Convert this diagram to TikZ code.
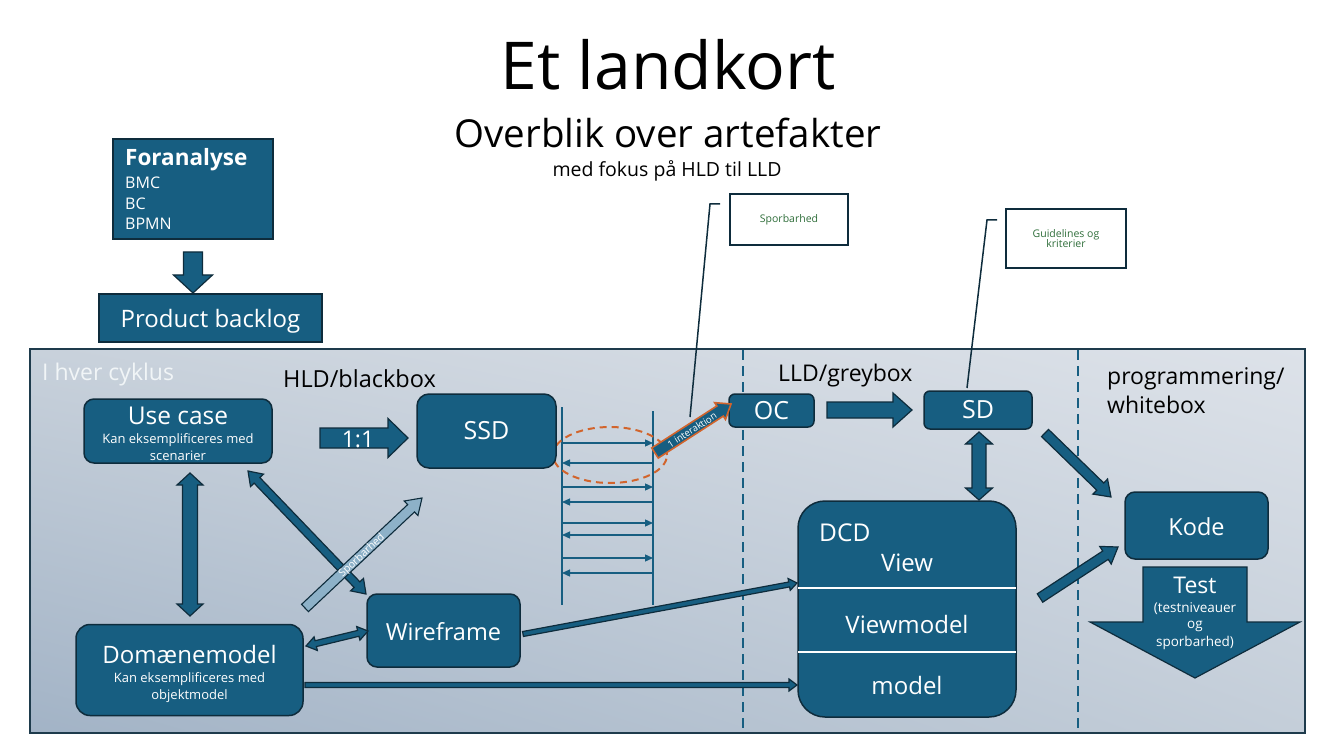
\documentclass[tikz,border=0pt]{standalone}
\usepackage{fontspec}
\setmainfont{Open Sans}
\usetikzlibrary{calc,shadings,shapes.geometric,arrows.meta}

\definecolor{boxblue}{HTML}{175E81}
\definecolor{boxedge}{HTML}{0E2C3C}
\definecolor{frameedge}{HTML}{1E3B4C}
\definecolor{orng}{HTML}{D2642C}
\definecolor{lightar}{HTML}{8DB1C8}
\definecolor{calltxt}{HTML}{2F6E3A}
\definecolor{bgll}{HTML}{A2B3C6}
\definecolor{bgul}{HTML}{C8D1DB}
\definecolor{bglr}{HTML}{C4CED9}
\definecolor{bgur}{HTML}{DDE2E9}

\newcommand\fs[1]{\fontsize{#1}{#1}\selectfont}

% single block arrow: style, from, to, shaft half width, head half width, head length
\newcommand\sarrow[6]{%
  \coordinate (ba-s) at ($(#3)!#6pt!(#2)$);
  \path[#1] ($(#2)!#4pt!90:(#3)$) -- ($(ba-s)!#4pt!90:(#3)$) -- ($(ba-s)!#5pt!90:(#3)$) -- (#3)
    -- ($(ba-s)!#5pt!-90:(#3)$) -- ($(ba-s)!#4pt!-90:(#3)$) -- ($(#2)!#4pt!-90:(#3)$) -- cycle;}
% double block arrow
\newcommand\darrow[6]{%
  \coordinate (da-s) at ($(#2)!#6pt!(#3)$);
  \coordinate (da-t) at ($(#3)!#6pt!(#2)$);
  \path[#1] (#2) -- ($(da-s)!#5pt!90:(#3)$) -- ($(da-s)!#4pt!90:(#3)$) -- ($(da-t)!#4pt!90:(#3)$)
    -- ($(da-t)!#5pt!90:(#3)$) -- (#3) -- ($(da-t)!#5pt!-90:(#3)$) -- ($(da-t)!#4pt!-90:(#3)$)
    -- ($(da-s)!#4pt!-90:(#3)$) -- ($(da-s)!#5pt!-90:(#3)$) -- cycle;}

\tikzset{
  box/.style={draw=boxedge, fill=boxblue, line width=1.5pt, text=white, inner sep=0pt},
  rbox/.style={box, rounded corners=#1},
  blk/.style={fill=boxblue, draw=boxedge, line width=1.2pt, line join=miter},
  lightblk/.style={fill=lightar, draw=boxedge, line width=1.1pt, line join=miter},
  orblk/.style={fill=boxblue, draw=orng, line width=1.6pt, line join=miter},
  wtxt/.style={text=white, inner sep=0pt},
  btxt/.style={text=black, inner sep=0pt},
  divider/.style={draw=boxblue, line width=1.4pt, dash pattern=on 10pt off 6pt},
  lifeline/.style={draw=boxblue, line width=1.3pt},
  msg/.style={draw=boxblue, line width=1.3pt, -{Triangle[length=8pt,width=7pt]}},
  callbox/.style={draw=boxedge, fill=white, line width=1.6pt, text=calltxt, inner sep=0pt, align=center, font=\fs{10.5}},
  leader/.style={draw=boxedge, line width=1.5pt},
  focus/.style={ellipse, draw=orng, line width=2pt, dash pattern=on 7pt off 5pt, inner sep=0pt},
}

\begin{document}
\begin{tikzpicture}[x=1pt,y=-1pt]
\useasboundingbox (0,0) rectangle (1330,743);

% titles
\node[btxt, anchor=base, font=\fs{66}] (title) at (668,90) {Et landkort};
\node[btxt, anchor=base, font=\fs{38.5}] (sub) at (668,148) {Overblik over artefakter};
\node[btxt, anchor=base, font=\fs{19.5}] (sub2) at (667,177) {med fokus på HLD til LLD};

% Foranalyse & backlog
\node[box, minimum width=160pt, minimum height=100pt] (fa) at (193,189) {};
\node[wtxt, anchor=base west, font=\bfseries\fs{22.5}] (fat) at (125,166) {Foranalyse};
\node[wtxt, anchor=base west, font=\fs{16}] (fa1) at (125,189) {BMC};
\node[wtxt, anchor=base west, font=\fs{16}] (fa2) at (125,210) {BC};
\node[wtxt, anchor=base west, font=\fs{16}] (fa3) at (125,230) {BPMN};
\node[box, minimum width=223pt, minimum height=48pt] (pb) at (210.5,318) {};
\node[wtxt, anchor=base, font=\fs{24}] (pbt) at (210.5,327) {Product backlog};
\coordinate (fa-a) at (193,252);
\coordinate (fa-b) at (193,293);
\sarrow{blk}{fa-a}{fa-b}{9.5}{19.5}{18}

% frame
\coordinate (fr-nw) at (30,349);
\coordinate (fr-se) at (1305,733);
\shade[lower left=bgll, upper right=bgur, upper left=bgul, lower right=bglr] (fr-nw) rectangle (fr-se);
\draw[frameedge, line width=1.5pt] (fr-nw) rectangle (fr-se);
\coordinate (d1t) at (743,350);
\coordinate (d1b) at (743,732);
\coordinate (d2t) at (1078,350);
\coordinate (d2b) at (1078,732);
\draw[divider] (d1t) -- (d1b);
\draw[divider] (d2t) -- (d2b);

\node[anchor=base west, inner sep=0pt, text=white!94!boxblue, font=\fs{23}] (cyc) at (42,380) {I hver cyklus};
\node[btxt, anchor=base west, font=\fs{23.5}] (hld) at (283,387) {HLD/blackbox};
\node[btxt, anchor=base west, font=\fs{23}] (lld) at (778,381) {LLD/greybox};
\node[btxt, anchor=base west, font=\fs{23}] (prg1) at (1107,384) {programmering/};
\node[btxt, anchor=base west, font=\fs{23}] (prg2) at (1107,413) {whitebox};

% lifelines and messages
\coordinate (ll1t) at (562,407);
\coordinate (ll1b) at (562,605);
\coordinate (ll2t) at (653,411);
\coordinate (ll2b) at (653,605);
\draw[lifeline] (ll1t) -- (ll1b);
\draw[lifeline] (ll2t) -- (ll2b);
\foreach \y in {443,487,523,558} {
  \draw[msg] (ll1t |- 0,\y) -- (ll2t |- 0,\y);
}
\foreach \y in {463,502,535,573} {
  \draw[msg] (ll2t |- 0,\y) -- (ll1t |- 0,\y);
}
\node[focus, minimum width=114pt, minimum height=56pt] (foc) at (610,455) {};

% boxes
\node[rbox=10pt, minimum width=188pt, minimum height=64pt] (uc) at (178,431) {};
\node[wtxt, anchor=base, font=\fs{24.5}] (uct) at (178,424) {Use case};
\node[wtxt, anchor=base, font=\fs{13}] (uc1) at (178,443) {Kan eksemplificeres med};
\node[wtxt, anchor=base, font=\fs{13}] (uc2) at (178,460) {scenarier};

\node[rbox=12pt, minimum width=139pt, minimum height=74pt, font=\fs{25}] (ssd) at (486.5,431) {SSD};
\node[rbox=6pt, minimum width=85pt, minimum height=33pt, font=\fs{25}] (oc) at (771.5,410.5) {OC};
\node[rbox=6pt, minimum width=108pt, minimum height=38pt, font=\fs{25}] (sd) at (978,410) {SD};

\node[rbox=27pt, minimum width=218pt, minimum height=216pt] (dcd) at (907,609) {};
\coordinate (dl1a) at (798,588);
\coordinate (dl1b) at (1016,588);
\coordinate (dl2a) at (798,652);
\coordinate (dl2b) at (1016,652);
\draw[white, line width=1.6pt] (dl1a) -- (dl1b);
\draw[white, line width=1.6pt] (dl2a) -- (dl2b);
\node[wtxt, anchor=base west, font=\fs{24.5}] (dcdt) at (819,541) {DCD};
\node[wtxt, anchor=base, font=\fs{24}] (dcdv) at (907,571) {View};
\node[wtxt, anchor=base, font=\fs{24}] (dcdvm) at (907,633) {Viewmodel};
\node[wtxt, anchor=base, font=\fs{24}] (dcdm) at (907,694) {model};

\node[rbox=10pt, minimum width=143pt, minimum height=67pt] (kode) at (1196.5,525.5) {};
\node[wtxt, anchor=base, font=\fs{23.5}] (kodet) at (1196.5,535) {Kode};

\node[rbox=10pt, minimum width=153pt, minimum height=73pt] (wf) at (443.5,630.5) {};
\node[wtxt, anchor=base, font=\fs{23.5}] (wft) at (443.5,640) {Wireframe};

\node[rbox=14pt, minimum width=227pt, minimum height=91pt] (dm) at (189.5,670) {};
\node[wtxt, anchor=base, font=\fs{24}] (dmt) at (189.5,663) {Domænemodel};
\node[wtxt, anchor=base, font=\fs{13}] (dm1) at (189.5,682) {Kan eksemplificeres med};
\node[wtxt, anchor=base, font=\fs{13}] (dm2) at (189.5,699) {objektmodel};

% block arrows
\coordinate (one-a) at (320,438);
\coordinate (one-b) at (408,438);
\sarrow{blk}{one-a}{one-b}{10}{19.5}{20}
\node[wtxt, font=\fs{23}] (onet) at (358,439) {1:1};

\coordinate (ocsd-a) at (827,410);
\coordinate (ocsd-b) at (912,410);
\sarrow{blk}{ocsd-a}{ocsd-b}{8}{17}{19}

\coordinate (sddcd-a) at (979,432);
\coordinate (sddcd-b) at (979,500);
\darrow{blk}{sddcd-a}{sddcd-b}{7}{13.5}{12}

\coordinate (sdk-a) at (1045,433);
\coordinate (sdk-b) at (1111,497);
\sarrow{blk}{sdk-a}{sdk-b}{5}{10.5}{15}

\coordinate (dck-a) at (1040,598);
\coordinate (dck-b) at (1118,547);
\sarrow{blk}{dck-a}{dck-b}{5}{10.5}{15}

\coordinate (t-a) at (1195,567);
\coordinate (t-b) at (1195,678);
\sarrow{blk}{t-a}{t-b}{52}{105}{56}
\node[wtxt, anchor=base, font=\fs{23}] (tt) at (1195,593) {Test};
\node[wtxt, anchor=base, font=\fs{13.5}] (tt1) at (1195,612) {(testniveauer};
\node[wtxt, anchor=base, font=\fs{13.5}] (tt2) at (1195,628) {og};
\node[wtxt, anchor=base, font=\fs{13.5}] (tt3) at (1195,646) {sporbarhed)};

\coordinate (ucdm-a) at (190,473);
\coordinate (ucdm-b) at (190,616);
\darrow{blk}{ucdm-a}{ucdm-b}{7.5}{13}{12}

\coordinate (ucwf-a) at (248,471);
\coordinate (ucwf-b) at (366,594);
\darrow{blk}{ucwf-a}{ucwf-b}{4}{9}{13}

\coordinate (sp-a) at (305,608);
\coordinate (sp-b) at (422,498);
\sarrow{lightblk}{sp-a}{sp-b}{5}{10}{15}
\node[wtxt, rotate=43.2, font=\fs{10.5}] (spt) at (362,556) {Sporbarhed};

\coordinate (wfdm-a) at (368,631);
\coordinate (wfdm-b) at (306,646);
\darrow{blk}{wfdm-a}{wfdm-b}{3}{7}{10}

\coordinate (wfdcd-a) at (523,634);
\coordinate (wfdcd-b) at (797,583);
\sarrow{blk}{wfdcd-a}{wfdcd-b}{2.5}{6}{8}

\coordinate (dmdcd-a) at (305,685);
\coordinate (dmdcd-b) at (797,685);
\sarrow{blk}{dmdcd-a}{dmdcd-b}{2.5}{6}{8}

\coordinate (ia-a) at (655,453);
\coordinate (ia-b) at (731,404);
\sarrow{orblk}{ia-a}{ia-b}{6}{10}{13}
\node[wtxt, rotate=32.8, font=\fs{9.5}] (iat) at (692,430) {1 interaktion};

% callouts
\node[callbox, minimum width=118pt, minimum height=51pt] (cb1) at (789,219.5) {Sporbarhed};
\coordinate (cb1-a) at (720,204);
\coordinate (cb1-b) at (710,204);
\coordinate (cb1-c) at (690,417);
\draw[leader] (cb1-a) -- (cb1-b) -- (cb1-c);

\node[callbox, minimum width=120pt, minimum height=59pt] (cb2) at (1066,238.5) {\fontsize{10.5}{12.5}\selectfont Guidelines og\\kriterier};
\coordinate (cb2-a) at (997,220);
\coordinate (cb2-b) at (987,220);
\coordinate (cb2-c) at (967,388);
\draw[leader] (cb2-a) -- (cb2-b) -- (cb2-c);
\end{tikzpicture}
\end{document}
